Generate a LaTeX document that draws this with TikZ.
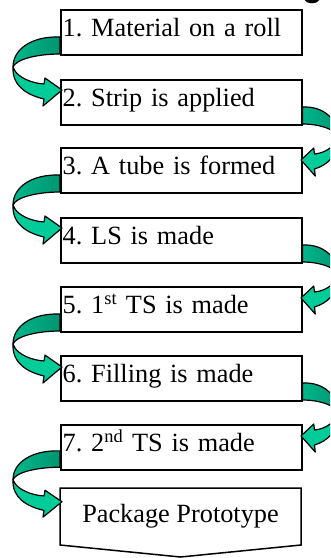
\documentclass[tikz,border=0pt]{standalone}
\usepackage{fontspec}
\setmainfont{Liberation Serif}
\newfontfamily\headfont{Liberation Sans}
\definecolor{bandback}{RGB}{0,150,112}
\definecolor{bandbackl}{RGB}{0,182,140}
\definecolor{bandfront}{RGB}{0,204,153}
\frenchspacing
\begin{document}
\begin{tikzpicture}[x=1pt,y=-1pt,
  stepbox/.style={draw=black, line width=1.5pt, fill=white,
    inner xsep=2pt, inner ysep=0pt, text height=27pt, text depth=18pt,
    text width=237pt, align=left, anchor=north west,
    font=\fontsize{26.3}{30}\selectfont\frenchspacing},
  bandline/.style={draw=black, line width=1.2pt, line join=round},
  curvarrow/.pic={
    % front part of the ribbon, ending in the head
    \path[bandline, fill=bandfront]
      (-47,58) .. controls (-48,77) and (-33,86) .. (-16,90)
      -- (-17,97) -- (2,81) -- (-15,69) -- (-16,75)
      .. controls (-30,74) and (-41,68) .. (-45,62) -- cycle;
    % back part of the ribbon
    \path[bandline, left color=bandbackl, right color=bandback]
      (0,28) .. controls (-28,27) and (-47,40) .. (-47,58)
      .. controls (-44,50) and (-22,45) .. (0,45) -- cycle;
  }]
\clip (0,0) rectangle (330,558);

% cut-off heading letter
\node[font=\headfont\bfseries\fontsize{34}{40}\selectfont, anchor=south,
  inner sep=0pt] (headfrag) at (312.5,4) {g};

% process steps
\node[stepbox] (s1) at (60,9)   {1. Material on a roll};
\node[stepbox] (s2) at (60,79)  {2. Strip is applied};
\node[stepbox] (s3) at (60,147) {3. A tube is formed};
\node[stepbox] (s4) at (60,217) {4. LS is made};
\node[stepbox] (s5) at (60,286) {5. 1\textsuperscript{st} TS is made};
\node[stepbox] (s6) at (60,355) {6. Filling is made};
\node[stepbox] (s7) at (60,424) {7. 2\textsuperscript{nd} TS is made};

% final result as a downward pentagon
\draw[line width=1.5pt, fill=white]
  (60,488) -- (301,488) -- (301,545) -- (180.5,557) -- (60,545) -- cycle;
\node[font=\fontsize{26.3}{30}\selectfont, anchor=base, inner sep=0pt]
  (pkg) at (180.5,522) {Package Prototype};

% curved connectors, alternating sides
\pic at (s1.north west) {curvarrow};
\pic[xscale=-0.75] at (s2.north east) {curvarrow};
\pic at (s3.north west) {curvarrow};
\pic[xscale=-0.75] at (s4.north east) {curvarrow};
\pic at (s5.north west) {curvarrow};
\pic[xscale=-0.75] at (s6.north east) {curvarrow};
\pic[yscale=0.96] at (s7.north west) {curvarrow};
\end{tikzpicture}
\end{document}
